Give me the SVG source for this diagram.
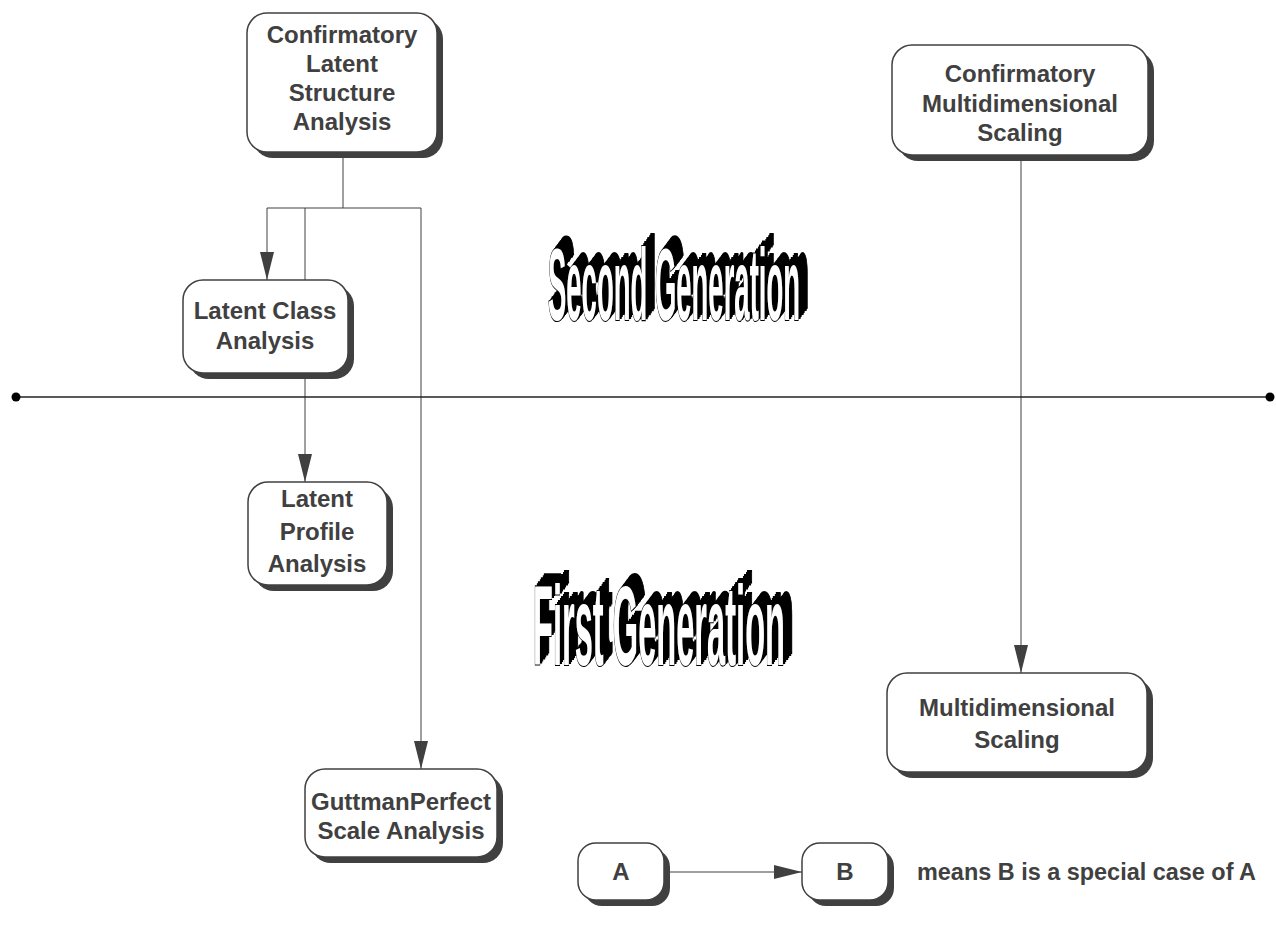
<svg xmlns="http://www.w3.org/2000/svg" width="1276" height="932" viewBox="0 0 1276 932">
<defs>
<style>
.box{fill:#fff;stroke:#404040;stroke-width:1.5}
.sh{fill:#404040}
.lbl{font-family:"Liberation Sans",Arial,sans-serif;font-weight:bold;font-size:24px;fill:#404040;text-anchor:middle}
.con{fill:none;stroke:#404040;stroke-width:1}
.wa{font-family:"Liberation Sans",Arial,sans-serif;font-weight:bold;fill:#fff;stroke:#000;stroke-width:1.6;vector-effect:non-scaling-stroke;paint-order:stroke}
</style>
<marker id="arr" markerWidth="28" markerHeight="14" refX="28" refY="7" orient="auto" markerUnits="userSpaceOnUse">
<path d="M0,0 L28,7 L0,14 z" fill="#404040"/>
</marker>
<filter id="ext" x="-10%" y="-40%" width="130%" height="180%">
<feOffset in="SourceAlpha" dx="1.5" dy="-2" result="o1"/>
<feOffset in="SourceAlpha" dx="3" dy="-4" result="o2"/>
<feOffset in="SourceAlpha" dx="4.5" dy="-6" result="o3"/>
<feOffset in="SourceAlpha" dx="6" dy="-8" result="o4"/>
<feOffset in="SourceAlpha" dx="7.5" dy="-10" result="o5"/>
<feOffset in="SourceAlpha" dx="9" dy="-12" result="o6"/>
<feMerge><feMergeNode in="o6"/><feMergeNode in="o5"/><feMergeNode in="o4"/><feMergeNode in="o3"/><feMergeNode in="o2"/><feMergeNode in="o1"/><feMergeNode in="SourceGraphic"/></feMerge>
</filter>
</defs>
<rect width="1276" height="932" fill="#fff"/>

<g id="wordart">
<g filter="url(#ext)">
<text class="wa" transform="translate(548,320) scale(1,3.8)" x="0" y="0" font-size="27" textLength="252" lengthAdjust="spacingAndGlyphs">Second Generation</text>
</g>
<g filter="url(#ext)">
<text class="wa" transform="translate(533,665) scale(1,3.55)" x="0" y="0" font-size="32" textLength="252" lengthAdjust="spacingAndGlyphs">First Generation</text>
</g>
</g>

<g id="connectors">
<path class="con" d="M343,158 V208 M267,208 H421"/>
<path class="con" d="M267,208 V280" marker-end="url(#arr)"/>
<path class="con" d="M305,208 V482" marker-end="url(#arr)"/>
<path class="con" d="M421,208 V769" marker-end="url(#arr)"/>
<path class="con" d="M1021,161 V673" marker-end="url(#arr)"/>
<path class="con" d="M670,872 H802" marker-end="url(#arr)"/>
<path d="M16,397 H1270" stroke="#222" stroke-width="1.6" fill="none"/>
<circle cx="16" cy="397" r="4.5" fill="#000"/>
<circle cx="1270" cy="397" r="4.5" fill="#000"/>
</g>

<g id="n1">
<rect class="sh" x="253" y="19" width="190" height="139" rx="20"/>
<rect class="box" x="247" y="13" width="190" height="139" rx="20"/>
<text class="lbl" x="342" y="43">Confirmatory</text>
<text class="lbl" x="342" y="72">Latent</text>
<text class="lbl" x="342" y="101">Structure</text>
<text class="lbl" x="342" y="130">Analysis</text>
</g>

<g id="n2">
<rect class="sh" x="898" y="51" width="256" height="110" rx="20"/>
<rect class="box" x="892" y="45" width="256" height="110" rx="20"/>
<text class="lbl" x="1020" y="82">Confirmatory</text>
<text class="lbl" x="1020" y="112">Multidimensional</text>
<text class="lbl" x="1020" y="141">Scaling</text>
</g>

<g id="n3">
<rect class="sh" x="189" y="286" width="165" height="93" rx="20"/>
<rect class="box" x="183" y="280" width="165" height="93" rx="20"/>
<text class="lbl" x="265" y="319">Latent Class</text>
<text class="lbl" x="265" y="349">Analysis</text>
</g>

<g id="n4">
<rect class="sh" x="254" y="488" width="139" height="103" rx="20"/>
<rect class="box" x="248" y="482" width="139" height="103" rx="20"/>
<text class="lbl" x="317" y="507">Latent</text>
<text class="lbl" x="317" y="540">Profile</text>
<text class="lbl" x="317" y="572">Analysis</text>
</g>

<g id="n5">
<rect class="sh" x="311" y="775" width="192" height="88" rx="20"/>
<rect class="box" x="305" y="769" width="192" height="88" rx="20"/>
<text class="lbl" x="401" y="810">GuttmanPerfect</text>
<text class="lbl" x="401" y="839">Scale Analysis</text>
</g>

<g id="n6">
<rect class="sh" x="893" y="679" width="260" height="99" rx="20"/>
<rect class="box" x="887" y="673" width="260" height="99" rx="20"/>
<text class="lbl" x="1017" y="716">Multidimensional</text>
<text class="lbl" x="1017" y="748">Scaling</text>
</g>

<g id="legendA">
<rect class="sh" x="584" y="849" width="86" height="57" rx="18"/>
<rect class="box" x="578" y="843" width="86" height="57" rx="18"/>
<text class="lbl" x="621" y="880">A</text>
</g>

<g id="legendB">
<rect class="sh" x="808" y="849" width="86" height="57" rx="18"/>
<rect class="box" x="802" y="843" width="86" height="57" rx="18"/>
<text class="lbl" x="845" y="880">B</text>
</g>

<g id="legendText">
<text x="917" y="880" font-family="Liberation Sans, Arial, sans-serif" font-weight="bold" font-size="23" fill="#404040" textLength="339" lengthAdjust="spacingAndGlyphs">means B is a special case of A</text>
</g>
</svg>
